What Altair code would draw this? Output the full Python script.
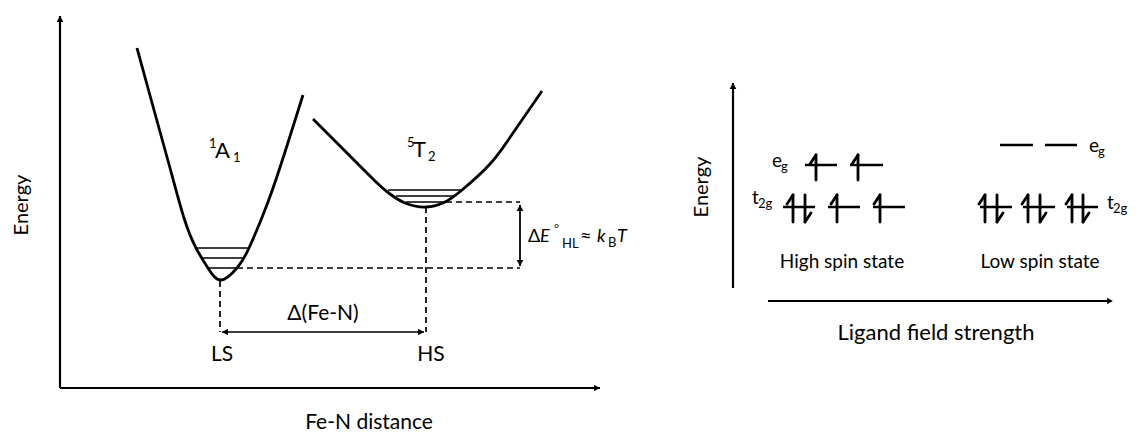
import altair as alt
import pandas as pd

W, H = 1136, 434
FONT = "Lato"

# ---- potential energy curves (pixel space) ----
ls_curve_x = [137, 154, 170, 184, 196, 208, 221, 237, 249, 268, 285, 303]
ls_curve_y = [48, 110, 168, 218, 248, 268, 280, 268, 248, 202, 152, 95]
hs_curve_x = [313, 342, 375, 390, 405, 426, 445, 462, 490, 513, 542]
hs_curve_y = [119, 148, 181, 194, 203, 207, 202, 190, 164, 133, 91]

# ---- line segments: x1, y1, x2, y2, style, width ----
seg_x1 = [60, 60, 196, 202, 208, 388, 396, 406,
          237, 446, 220, 426, 222, 520,
          733, 768,
          805, 850, 783, 828, 873,
          1000, 1045, 980, 1023, 1067]
seg_y1 = [388, 388, 248, 258, 268, 190, 196, 202,
          268, 202, 281, 207, 332, 205,
          288, 301,
          165, 165, 207, 207, 207,
          145, 145, 207, 207, 207]
seg_x2 = [60, 600, 249, 243, 237, 462, 455, 446,
          520, 520, 220, 426, 424, 520,
          733, 1110,
          837, 883, 815, 860, 905,
          1033, 1077, 1012, 1055, 1098]
seg_y2 = [16, 388, 248, 258, 268, 190, 196, 202,
          268, 202, 332, 332, 332, 266,
          83, 301,
          165, 165, 207, 207, 207,
          145, 145, 207, 207, 207]
seg_style = ["solid"] * 8 + ["dashed"] * 4 + ["solid"] * 14
seg_width = ([2.2, 2.2, 1.6, 1.6, 1.6, 1.6, 1.6, 1.6,
              1.7, 1.7, 1.7, 1.7, 1.4, 1.8,
              2.2, 2.2]
             + [2.6] * 10)

# ---- electron spin arrows: x, top, bottom, direction ----
spin_x = [816, 858, 793, 805, 837, 880, 985, 997, 1028, 1040, 1072, 1083]
spin_top = [155] * 2 + [195] * 10
spin_bot = [180] * 2 + [222] * 10
spin_dir = ["up", "up", "up", "down", "up", "up",
            "up", "down", "up", "down", "up", "down"]

# ---- arrowheads: x, y, direction ----
head_x = [60, 597, 225, 421, 520, 520, 733, 1110]
head_y = [19, 388, 332, 332, 208, 263, 86, 301]
head_dir = ["up", "right", "left", "right", "up", "down", "up", "right"]

# ---- centred texts ----
txt_c = ["Energy", "Fe-N distance", "LS", "HS", "Δ(Fe-N)",
         "Energy", "Ligand field strength", "High spin state", "Low spin state"]
txt_c_x = [22, 369, 222, 431, 323, 702, 936, 842, 1040]
txt_c_y = [205, 423, 355, 355, 314, 187, 333, 262, 262]
txt_c_size = [20, 21, 21, 21, 21, 20, 22, 19, 19]
txt_c_angle = [270, 0, 0, 0, 0, 270, 0, 0, 0]

# ---- left-aligned text pieces (super/subscripts) ----
txt_l = ["1", "A", "1", "5", "T", "2",
         "Δ", "°", "HL", "≈", "B",
         "e", "g", "t", "2g", "e", "g", "t", "2g"]
txt_l_x = [209, 215, 233, 407, 413, 428,
           528, 554, 562, 580, 608,
           772, 781, 752, 758, 1089, 1098, 1107, 1113]
txt_l_y = [144, 151, 158, 143, 150, 157,
           237, 229, 244, 237, 243,
           161, 167, 198, 204, 146, 152, 203, 209]
txt_l_size = [13, 22, 13, 13, 22, 13,
              18, 12, 13, 20, 13,
              19, 13, 19, 13, 19, 13, 19, 13]

# ---- italic pieces ----
txt_i = ["E", "k", "T"]
txt_i_x = [540, 597, 617]
txt_i_y = [237, 237, 237]
txt_i_size = [18, 18, 18]

# ---------------- build data ----------------
curves = pd.DataFrame({
    "x": ls_curve_x + hs_curve_x,
    "y": ls_curve_y + hs_curve_y,
    "c": ["LS"] * len(ls_curve_x) + ["HS"] * len(hs_curve_x),
})
segs = pd.DataFrame({"x": seg_x1, "y": seg_y1, "x2": seg_x2, "y2": seg_y2,
                     "style": seg_style, "w": seg_width})

spin_rows = []
for x, t, b, d in zip(spin_x, spin_top, spin_bot, spin_dir):
    spin_rows.append({"x": x, "y": t, "x2": x, "y2": b})
    if d == "up":
        spin_rows.append({"x": x, "y": t, "x2": x - 6, "y2": t + 9})
    else:
        spin_rows.append({"x": x, "y": b, "x2": x + 6, "y2": b - 9})
spins = pd.DataFrame(spin_rows)

heads = pd.DataFrame({"x": head_x, "y": head_y, "d": head_dir})
tc = pd.DataFrame({"x": txt_c_x, "y": txt_c_y, "t": txt_c, "s": txt_c_size, "a": txt_c_angle})
tl = pd.DataFrame({"x": txt_l_x, "y": txt_l_y, "t": txt_l, "s": txt_l_size})
ti = pd.DataFrame({"x": txt_i_x, "y": txt_i_y, "t": txt_i, "s": txt_i_size})

xs = alt.Scale(domain=[0, W], nice=False, zero=False)
ys = alt.Scale(domain=[0, H], nice=False, zero=False, reverse=True)
X = lambda f="x": alt.X(f"{f}:Q", scale=xs, axis=None)
Y = lambda f="y": alt.Y(f"{f}:Q", scale=ys, axis=None)

curve_layer = alt.Chart(curves).mark_line(
    color="black", strokeWidth=2.8, interpolate="natural"
).encode(x=X(), y=Y(), detail="c:N", order="x:Q")

seg_layer = alt.Chart(segs).mark_rule(color="black").encode(
    x=X(), y=Y(), x2="x2:Q", y2="y2:Q",
    size=alt.Size("w:Q", scale=None),
    strokeDash=alt.StrokeDash("style:N", scale=alt.Scale(
        domain=["solid", "dashed"], range=[[1, 0], [6, 4]]), legend=None),
)

spin_layer = alt.Chart(spins).mark_rule(color="black", strokeWidth=2.8, strokeCap="round").encode(
    x=X(), y=Y(), x2="x2:Q", y2="y2:Q")

head_layer = alt.Chart(heads).mark_point(filled=True, color="black", opacity=1, size=45).encode(
    x=X(), y=Y(),
    shape=alt.Shape("d:N", scale=alt.Scale(
        domain=["up", "down", "left", "right"],
        range=["triangle-up", "triangle-down", "triangle-left", "triangle-right"]), legend=None),
)

text_c_layer = alt.Chart(tc).mark_text(font=FONT, color="black", align="center", baseline="middle").encode(
    x=X(), y=Y(), text="t:N", size=alt.Size("s:Q", scale=None), angle=alt.Angle("a:Q", scale=None))

text_l_layer = alt.Chart(tl).mark_text(font=FONT, color="black", align="left", baseline="middle").encode(
    x=X(), y=Y(), text="t:N", size=alt.Size("s:Q", scale=None))

text_i_layer = alt.Chart(ti).mark_text(font=FONT, color="black", align="left", baseline="middle",
                                       fontStyle="italic").encode(
    x=X(), y=Y(), text="t:N", size=alt.Size("s:Q", scale=None))

chart = alt.layer(
    curve_layer, seg_layer, spin_layer, head_layer, text_c_layer, text_l_layer, text_i_layer
).properties(
    width=W, height=H, padding=0, autosize=alt.AutoSizeParams(type="none"), background="white"
).configure_view(stroke=None)

chart.save("out.html", embed_options={"renderer": "svg", "actions": False})
